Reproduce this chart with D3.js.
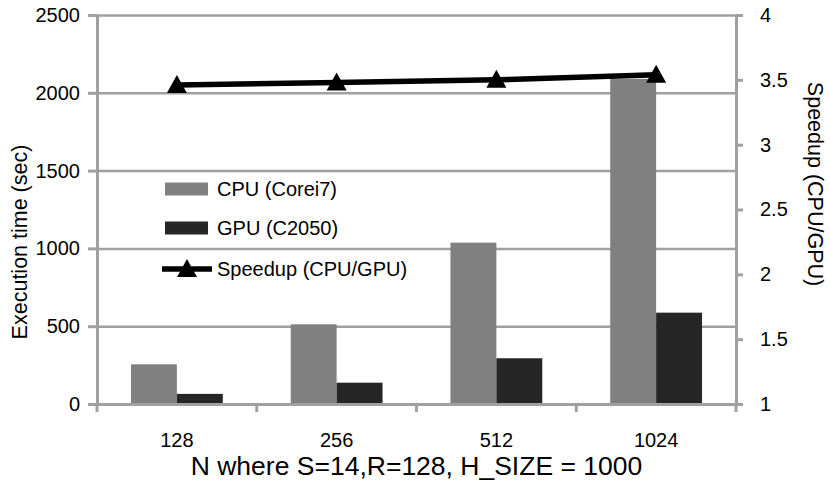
<!DOCTYPE html>
<html>
<head>
<meta charset="utf-8">
<script src="https://cdn.jsdelivr.net/npm/d3@7"></script>
<style>
  body { margin: 0; background: #fff; }
  svg { display: block; font-family: "Liberation Sans", Arial, sans-serif; }
</style>
</head>
<body>
<svg></svg>
<script>
// chart data
const categories = ['128', '256', '512', '1024'];
const seriesNames = ['CPU (Corei7)', 'GPU (C2050)'];
const cpuTimes = [255, 512, 1037, 2090];
const gpuTimes = [65, 137, 294, 587];
const speedup = [3.46, 3.48, 3.50, 3.54];
const leftTicks = [0, 500, 1000, 1500, 2000, 2500];
const rightTicks = [1, 1.5, 2, 2.5, 3, 3.5, 4];

const width = 830;
const height = 487;
const margin = { top: 15, right: 94, bottom: 83, left: 97 };
const plotW = width - margin.left - margin.right;
const plotH = height - margin.top - margin.bottom;

const gridColor = '#a0a0a0';
const barColors = ['#808080', '#262626'];

const svg = d3.select('svg')
    .attr('width', width)
    .attr('height', height);

svg.append('rect')
    .attr('width', width)
    .attr('height', height)
    .attr('fill', '#fff');

const g = svg.append('g')
    .attr('transform', `translate(${margin.left},${margin.top})`);

const x = d3.scaleBand()
    .domain(categories)
    .range([0, plotW]);

const xInner = d3.scaleBand()
    .domain(seriesNames)
    .range([0, x.bandwidth()])
    .paddingInner(0)
    .paddingOuter(0.74);

const yLeft = d3.scaleLinear().domain([0, 2500]).range([plotH, 0]);
const yRight = d3.scaleLinear().domain([1, 4]).range([plotH, 0]);

// gridlines
g.append('g')
    .attr('class', 'grid')
    .call(d3.axisLeft(yLeft).tickValues(leftTicks.slice(1)).tickSize(-plotW).tickFormat(''))
    .call(s => s.select('.domain').remove())
    .call(s => s.selectAll('line').attr('stroke', gridColor).attr('stroke-width', 2.5));

// bars
const rows = categories.map((c, i) => ({ cat: c, values: [cpuTimes[i], gpuTimes[i]] }));

g.append('g')
    .selectAll('g')
    .data(rows)
    .enter().append('g')
    .attr('transform', d => `translate(${x(d.cat)},0)`)
    .selectAll('rect')
    .data(d => d.values.map((v, j) => ({ name: seriesNames[j], value: v, j: j })))
    .enter().append('rect')
    .attr('x', d => xInner(d.name))
    .attr('width', xInner.bandwidth())
    .attr('y', d => yLeft(d.value))
    .attr('height', d => plotH - yLeft(d.value))
    .attr('fill', d => barColors[d.j]);

// left axis
const leftAxis = g.append('g')
    .call(d3.axisLeft(yLeft).tickValues(leftTicks).tickSize(9).tickSizeOuter(0).tickPadding(8)
        .tickFormat(d => String(d)));

// right axis
const rightAxis = g.append('g')
    .attr('transform', `translate(${plotW},0)`)
    .call(d3.axisRight(yRight).tickValues(rightTicks).tickSize(7).tickSizeOuter(0).tickPadding(17)
        .tickFormat(d => String(d)));

// bottom axis (labels at band centers, ticks at band edges)
const bottomAxis = g.append('g')
    .attr('transform', `translate(0,${plotH})`)
    .call(d3.axisBottom(x).tickSize(0).tickSizeOuter(0).tickPadding(29));

bottomAxis.selectAll('.boundary')
    .data(categories.map(c => x(c)).concat([plotW]))
    .enter().append('line')
    .attr('class', 'boundary')
    .attr('x1', d => d)
    .attr('x2', d => d)
    .attr('y1', 0)
    .attr('y2', 8);

[leftAxis, rightAxis, bottomAxis].forEach(a => {
    a.selectAll('.domain').attr('stroke', gridColor).attr('stroke-width', 3);
    a.selectAll('line').attr('stroke', gridColor).attr('stroke-width', 3);
    a.selectAll('text').attr('fill', '#000').style('font-family', '"Liberation Sans", Arial, sans-serif');
});
leftAxis.selectAll('text').style('font-size', '20px');
rightAxis.selectAll('text').style('font-size', '20px');
bottomAxis.selectAll('text').style('font-size', '20px');

// speedup line
const cx = c => x(c) + x.bandwidth() / 2;
const tri = 'M0,-10L10,8L-10,8Z';

g.append('path')
    .datum(speedup)
    .attr('fill', 'none')
    .attr('stroke', '#000')
    .attr('stroke-width', 5.5)
    .attr('d', d3.line().x((d, i) => cx(categories[i])).y(d => yRight(d)));

g.append('g')
    .selectAll('path')
    .data(speedup)
    .enter().append('path')
    .attr('d', tri)
    .attr('fill', '#000')
    .attr('transform', (d, i) => `translate(${cx(categories[i])},${yRight(d)})`);

// legend
const legend = svg.append('g').attr('transform', 'translate(165,189)');
const legendItems = [
    { label: seriesNames[0], type: 'bar', color: barColors[0] },
    { label: seriesNames[1], type: 'bar', color: barColors[1] },
    { label: 'Speedup (CPU/GPU)', type: 'line' }
];
legendItems.forEach((d, i) => {
    const item = legend.append('g').attr('transform', `translate(0,${i === 2 ? 80 : i * 39})`);
    if (d.type === 'bar') {
        item.append('rect')
            .attr('x', 0).attr('y', -6.5)
            .attr('width', 43).attr('height', 13)
            .attr('fill', d.color);
    } else {
        item.append('line')
            .attr('x1', -3).attr('x2', 47)
            .attr('stroke', '#000').attr('stroke-width', 5.5);
        item.append('path')
            .attr('d', tri)
            .attr('transform', 'translate(22,0)');
    }
    item.append('text')
        .attr('x', 52)
        .attr('dy', '0.35em')
        .style('font-size', '20px')
        .text(d.label);
});

// axis titles
svg.append('text')
    .attr('transform', 'translate(27,242) rotate(-90)')
    .attr('text-anchor', 'middle')
    .style('font-size', '21.5px')
    .text('Execution time (sec)');

svg.append('text')
    .attr('transform', 'translate(808,184) rotate(90)')
    .attr('text-anchor', 'middle')
    .style('font-size', '21.5px')
    .text('Speedup (CPU/GPU)');

svg.append('text')
    .attr('x', margin.left + plotW / 2)
    .attr('y', 475)
    .attr('text-anchor', 'middle')
    .style('font-size', '26.5px')
    .text('N where S=14,R=128, H_SIZE = 1000');
</script>
</body>
</html>
